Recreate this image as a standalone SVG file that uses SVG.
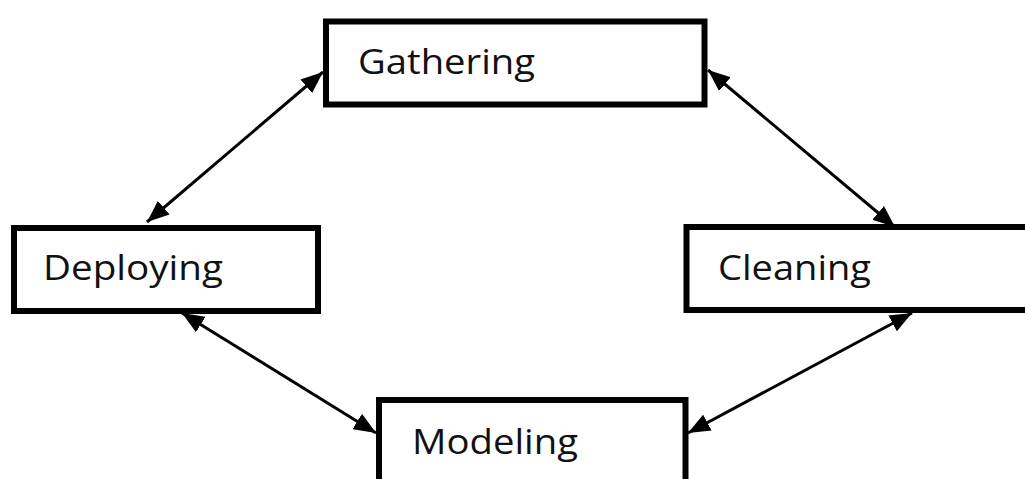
<svg xmlns="http://www.w3.org/2000/svg" width="1025" height="479" viewBox="0 0 1025 479">
<style>
.box{fill:#fff;stroke:#000;stroke-width:6}
.lbl{font-family:"Open Sans","Liberation Sans",sans-serif;font-size:35px;fill:#111}
.conn{stroke:#000;stroke-width:3;fill:none;marker-start:url(#ah);marker-end:url(#ah)}
</style>
<defs>
<marker id="ah" viewBox="0 0 22 18" refX="22" refY="9" markerWidth="22" markerHeight="18" markerUnits="userSpaceOnUse" orient="auto-start-reverse">
<path d="M0,0 L22,9 L0,18 z" fill="#000"/>
</marker>
</defs>
<rect width="1025" height="479" fill="#fff"/>
<g id="connectors">
<line class="conn" x1="147" y1="222" x2="323" y2="72"/>
<line class="conn" x1="708" y1="70" x2="895" y2="227"/>
<line class="conn" x1="182" y1="313" x2="376" y2="433"/>
<line class="conn" x1="912" y1="313" x2="688" y2="433"/>
</g>
<g id="gathering">
<rect class="box" x="326" y="21.5" width="378.5" height="83"/>
<text class="lbl" x="358" y="74" textLength="177" lengthAdjust="spacingAndGlyphs">Gathering</text>
</g>
<g id="deploying">
<rect class="box" x="14" y="228" width="304" height="83"/>
<text class="lbl" x="43" y="280" textLength="180" lengthAdjust="spacingAndGlyphs">Deploying</text>
</g>
<g id="cleaning">
<rect class="box" x="686.5" y="227" width="345" height="83"/>
<text class="lbl" x="718" y="280" textLength="153" lengthAdjust="spacingAndGlyphs">Cleaning</text>
</g>
<g id="modeling">
<rect class="box" x="379" y="400" width="306.5" height="90"/>
<text class="lbl" x="412" y="454" textLength="166" lengthAdjust="spacingAndGlyphs">Modeling</text>
</g>
</svg>
